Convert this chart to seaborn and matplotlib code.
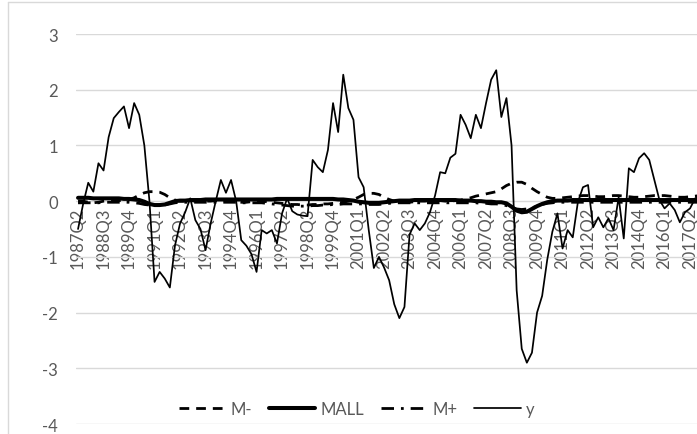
import pandas as pd
import seaborn as sns
import matplotlib.pyplot as plt
from matplotlib.lines import Line2D


# quarterly categories, 1987Q2 .. 2017Q4
quarters = [str(p) for p in pd.period_range('1987Q2', '2017Q4', freq='Q')]

y_vals = [
    -0.50, -0.05, 0.33, 0.17, 0.68, 0.55, 1.15, 1.49, 1.60, 1.70,
    1.31, 1.76, 1.55, 1.00, 0.00, -1.45, -1.27, -1.39, -1.55, -0.80,
    -0.40, -0.20, 0.05, -0.34, -0.50, -0.88, -0.40, 0.00, 0.38, 0.15,
    0.38, 0.00, -0.70, -0.80, -0.95, -1.27, -0.52, -0.58, -0.52, -0.76,
    -0.22, 0.05, -0.18, -0.24, -0.26, -0.27, 0.74, 0.61, 0.52, 0.92,
    1.76, 1.24, 2.27, 1.67, 1.46, 0.43, 0.25, -0.52, -1.20, -1.00,
    -1.19, -1.42, -1.85, -2.10, -1.90, -0.60, -0.40, -0.52, -0.40, -0.20,
    0.10, 0.52, 0.50, 0.78, 0.85, 1.55, 1.37, 1.13, 1.55, 1.31,
    1.76, 2.18, 2.35, 1.51, 1.85, 1.00, -1.60, -2.65, -2.90, -2.72,
    -2.00, -1.70, -1.05, -0.55, -0.22, -0.85, -0.52, -0.65, -0.02, 0.25,
    0.29, -0.47, -0.29, -0.47, -0.31, -0.52, 0.07, -0.67, 0.59, 0.52,
    0.77, 0.86, 0.74, 0.38, 0.02, -0.13, -0.04, -0.16, -0.38, -0.20,
    -0.13, 0.05, 0.10,
]

m_minus = [
    0.00, 0.00, -0.02, -0.03, -0.02, 0.00, 0.01, 0.01, 0.01, 0.02, 0.03,
    0.06, 0.11, 0.15, 0.17, 0.17, 0.16, 0.12, 0.06, 0.02,
    0.00, 0.00, 0.01, 0.00, -0.01, 0.00, 0.00, 0.01, 0.01, 0.00, 0.00,
    -0.01, -0.02, -0.02, -0.01, 0.00, 0.00, -0.01, -0.02, -0.03, -0.04,
    -0.05, -0.06, -0.06, -0.07, -0.07, -0.06, -0.06, -0.05, -0.05, -0.04,
    -0.03, -0.02, 0.00, 0.03,
    0.07, 0.12, 0.14, 0.14, 0.12, 0.07, 0.03,
    0.00, -0.01, -0.02, -0.02, -0.01, 0.00, 0.00, 0.01, 0.01, 0.01,
    0.00, 0.00, 0.01, 0.02,
    0.04, 0.06, 0.09, 0.11, 0.13, 0.15, 0.17, 0.22, 0.28, 0.32,
    0.34, 0.34, 0.30, 0.23, 0.17, 0.12, 0.07,
    0.05, 0.05, 0.06, 0.07, 0.08, 0.09, 0.10, 0.10, 0.09, 0.08,
    0.08, 0.09, 0.10, 0.10, 0.09, 0.08, 0.07, 0.07, 0.08, 0.09,
    0.10, 0.10, 0.10, 0.09, 0.08, 0.07, 0.07, 0.08, 0.09, 0.10,
]

m_all = [
    0.06, 0.06, 0.06, 0.05, 0.05, 0.05, 0.05, 0.05, 0.05, 0.04, 0.04, 0.03, 0.02,
    -0.01, -0.05, -0.07, -0.07, -0.06, -0.03, 0.00,
    0.01, 0.01, 0.02, 0.02, 0.02, 0.03, 0.03, 0.03, 0.03, 0.03,
    0.03, 0.03, 0.03, 0.03, 0.03, 0.03, 0.03, 0.03, 0.03, 0.04,
    0.04, 0.04, 0.04, 0.04, 0.04, 0.04, 0.04, 0.04, 0.04, 0.04,
    0.04, 0.03, 0.03, 0.02, 0.01,
    -0.01, -0.02, -0.03, -0.03, -0.03, -0.02, -0.01,
    0.00, 0.01, 0.01, 0.01, 0.02, 0.02, 0.02, 0.02, 0.02, 0.02, 0.02,
    0.02, 0.02, 0.01, 0.01, 0.01, 0.00, 0.00, -0.01, -0.01, -0.02, -0.02,
    -0.04, -0.10, -0.17, -0.20, -0.19, -0.14, -0.09, -0.05, -0.02, 0.00,
    0.01, 0.01, 0.01, 0.02, 0.02, 0.02, 0.02, 0.02, 0.02, 0.02,
    0.02, 0.02, 0.02, 0.02, 0.02, 0.02, 0.02, 0.02, 0.02, 0.02,
    0.02, 0.02, 0.02, 0.02, 0.02, 0.02, 0.02, 0.02, 0.02,
]

m_plus = [
    -0.03, -0.03, -0.03, -0.03, -0.03, -0.02, -0.02, -0.02, -0.02, -0.02, -0.02, -0.03, -0.04,
    -0.06, -0.07, -0.08, -0.08, -0.07, -0.05, -0.03,
    -0.02, -0.02, -0.02, -0.02, -0.02, -0.02, -0.02, -0.02, -0.02, -0.02,
    -0.02, -0.02, -0.03, -0.03, -0.03, -0.03, -0.03, -0.04, -0.05, -0.06, -0.07,
    -0.08, -0.09, -0.09, -0.09, -0.09, -0.08, -0.08, -0.07, -0.07, -0.06,
    -0.06, -0.05, -0.05, -0.05,
    -0.05, -0.05, -0.06, -0.06, -0.06, -0.05, -0.04,
    -0.03, -0.03, -0.03, -0.03, -0.03, -0.03, -0.03, -0.03, -0.03, -0.03, -0.03,
    -0.03, -0.03, -0.03, -0.03, -0.03, -0.03, -0.04, -0.04, -0.05, -0.05, -0.06,
    -0.08, -0.11, -0.14, -0.15, -0.14, -0.12, -0.09, -0.06, -0.04, -0.03,
    -0.02, -0.02, -0.02, -0.02, -0.02, -0.02, -0.02, -0.02, -0.02, -0.02,
    -0.02, -0.02, -0.02, -0.02, -0.02, -0.02, -0.02, -0.02, -0.02, -0.02,
    -0.02, -0.02, -0.02, -0.02, -0.02, -0.02, -0.02, -0.02, -0.02,
]

sns.set_style("white")
plt.rcParams['font.family'] = ['Lato', 'DejaVu Sans']
plt.rcParams['axes.unicode_minus'] = False

W, H = 697, 435
fig = plt.figure(figsize=(W / 100, H / 100), dpi=100)
ax = fig.add_axes([75.5 / W, 1 - 425 / H, 627.3 / W, 390 / H])

pos = list(range(len(quarters)))

# name, values, linewidth, linestyle  (drawn in Excel order, y on top)
series = [
    ("M-", m_minus, 2.0, (0, (3.5, 2.5))),
    ("MALL", m_all, 2.9, "-"),
    ("M+", m_plus, 2.0, (0, (4.5, 2.5, 1, 2.5))),
    ("y", y_vals, 1.25, "-"),
]

handles = []
for name, vals, lw, ls in series:
    sns.lineplot(x=pos, y=vals, ax=ax, color="black", lw=lw, linestyle=ls)
    handles.append(Line2D([], [], color="black", lw=lw, linestyle=ls, label=name))

ax.set_xlim(-0.5, len(quarters) - 0.5)
ax.set_ylim(-4, 3)
ax.set_yticks(range(-4, 4))
ax.grid(axis="y", color="#d9d9d9", lw=1)
ax.grid(axis="x", visible=False)
ax.set_axisbelow(True)
for s in ax.spines.values():
    s.set_visible(False)
ax.spines["bottom"].set_position(("data", 0))

ax.set_xticks(pos[::5])
ax.set_xticklabels(quarters[::5], rotation=90)
ax.tick_params(axis="x", length=0, pad=4, labelsize=12, labelcolor="#595959")
ax.tick_params(axis="y", length=0, pad=12.5, labelsize=12, labelcolor="#595959")
ax.set_xlabel("")
ax.set_ylabel("")

fig.legend(handles=handles, loc="center", bbox_to_anchor=(356.5 / W, 1 - 410 / H),
           ncol=4, frameon=False, fontsize=12, labelcolor="#595959",
           handlelength=2.8, handletextpad=0.3, columnspacing=1.0)

# chart border (right side is cut off in the original)
fig.add_artist(Line2D([8 / W, 8 / W], [0, 1 - 3 / H], transform=fig.transFigure,
                      color="#d9d9d9", lw=1))
fig.add_artist(Line2D([8 / W, 1], [1 - 3 / H, 1 - 3 / H], transform=fig.transFigure,
                      color="#d9d9d9", lw=1))

fig.savefig("out.png", dpi=100, facecolor="white")
